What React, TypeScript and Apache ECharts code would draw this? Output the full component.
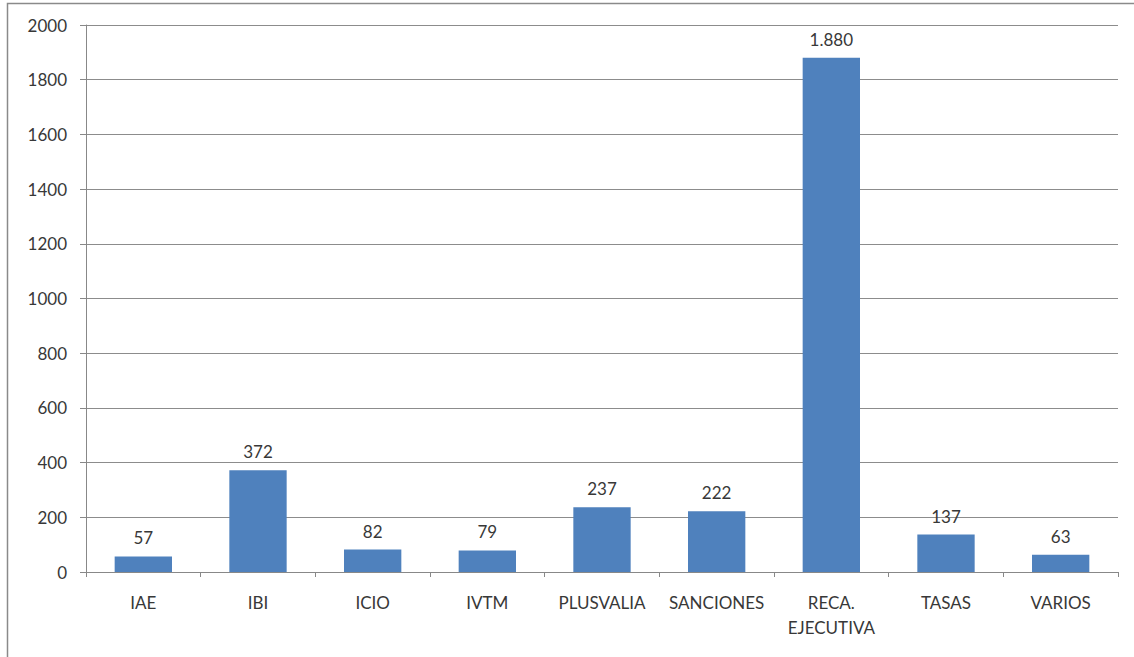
import React, { useEffect, useRef } from "react";
import * as echarts from "echarts";

const categories = ["IAE", "IBI", "ICIO", "IVTM", "PLUSVALIA", "SANCIONES", "RECA.\nEJECUTIVA", "TASAS", "VARIOS"];
const values = [57, 372, 82, 79, 237, 222, 1880, 137, 63];
const yTicks = { min: 0, max: 2000, interval: 200 };

function fmt(v: number): string {
  const s = String(Math.round(v));
  return s.replace(/\B(?=(\d{3})+(?!\d))/g, ".");
}

export default function App() {
  const ref = useRef<HTMLDivElement>(null);
  useEffect(() => {
    if (!ref.current) return;
    const chart = echarts.init(ref.current, undefined, { renderer: "svg" });
    const font = "Lato";
    chart.setOption({
      animation: false,
      backgroundColor: "#ffffff",
      textStyle: { fontFamily: font },
      graphic: [
        {
          type: "rect",
          shape: { x: 7.5, y: 3.5, width: 1140, height: 700 },
          style: { fill: "none", stroke: "#8a8a8a", lineWidth: 1.5 },
          silent: true,
        },
      ],
      grid: { left: 86, right: 16, top: 25, bottom: 85, containLabel: false },
      xAxis: {
        type: "category",
        data: categories,
        axisLine: { show: true, lineStyle: { color: "#888888", width: 1 } },
        axisTick: { show: true, length: 5, inside: false, lineStyle: { color: "#888888" }, alignWithLabel: false },
        axisLabel: { color: "#383838", fontSize: 17, fontFamily: font, margin: 18, lineHeight: 25, interval: 0 },
        splitLine: { show: false },
      },
      yAxis: {
        type: "value",
        min: yTicks.min,
        max: yTicks.max,
        interval: yTicks.interval,
        axisLine: { show: true, lineStyle: { color: "#888888", width: 1 } },
        axisTick: { show: true, length: 6, lineStyle: { color: "#888888" } },
        axisLabel: { color: "#383838", fontSize: 17, fontFamily: font, margin: 19, formatter: (v: number) => String(v) },
        splitLine: { show: true, lineStyle: { color: "#8c8c8c", width: 1 } },
      },
      series: [
        {
          type: "bar",
          data: values,
          barWidth: "50%",
          itemStyle: { color: "#4f81bd" },
          label: {
            show: true,
            position: "top",
            distance: 10,
            color: "#383838",
            fontSize: 17,
            fontFamily: font,
            formatter: (p: any) => fmt(p.value),
          },
        },
      ],
    });
    return () => chart.dispose();
  }, []);
  return (
    <div
      ref={ref}
      style={{ position: "fixed", left: 0, top: 0, width: 1134, height: 657 }}
    />
  );
}
